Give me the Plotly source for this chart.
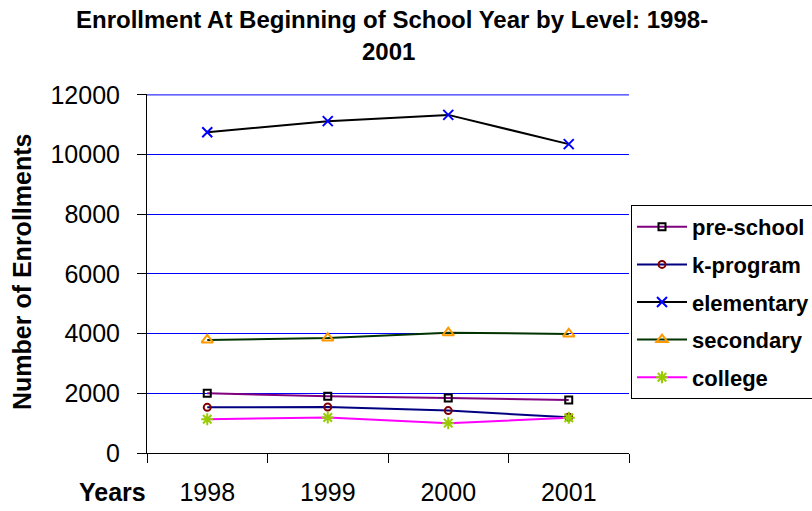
import plotly.graph_objects as go

years = ["1998", "1999", "2000", "2001"]
pre_school = [2000, 1900, 1840, 1780]
k_program = [1530, 1540, 1420, 1200]
elementary = [10750, 11120, 11330, 10350]
secondary = [3790, 3850, 4030, 3990]
college = [1130, 1190, 1000, 1180]
y_ticks = [0, 2000, 4000, 6000, 8000, 10000, 12000]
y_tick_labels = ["0", "2000", "4000", "6000", "8000", "10000", "12000"]

W, H = 812, 511
L, R, T, B = 147, 629, 94, 453
FONT = "Liberation Sans, Arial, sans-serif"
GRID = "#0000FF"


def px_x(x):
    return (x - L) / (R - L)


def px_y(y):
    return (B - y) / (B - T)


series = [
    ("pre-school", pre_school, "#800080", "square-open", "#000000", 7),
    ("k-program", k_program, "#000080", "circle-open", "#800000", 7),
    ("elementary", elementary, "#000000", "x-thin-open", "#0000FF", 10),
    ("secondary", secondary, "#003300", "triangle-up-open", "#FF9900", 10),
    ("college", college, "#FF00FF", "asterisk-open", "#99CC00", 10),
]

fig = go.Figure()
for name, vals, lc, sym, mc, ms in series:
    fig.add_trace(go.Scatter(
        x=years, y=vals, name=name, mode="lines+markers", legendgroup=name,
        line=dict(color=lc, width=2),
        marker=dict(symbol=sym, size=ms, color=mc, line=dict(color=mc, width=2)),
    ))

# top gridline (plotly omits the grid line at the range edge)
fig.add_shape(type="line", xref="paper", yref="y", x0=0, x1=1,
              y0=y_ticks[-1], y1=y_ticks[-1], layer="below",
              line=dict(color=GRID, width=1))

fig.update_layout(
    width=W, height=H,
    margin=dict(l=L, r=W - R, t=T, b=H - B, autoexpand=False),
    paper_bgcolor="white", plot_bgcolor="white",
    font=dict(family=FONT, color="black"),
    showlegend=True,
    legend=dict(
        x=px_x(631), y=px_y(205), xanchor="left", yanchor="top",
        bgcolor="white", bordercolor="black", borderwidth=1,
        font=dict(size=22, family=FONT, color="black", weight="bold"),
        traceorder="grouped", tracegroupgap=6, itemwidth=50,
    ),
    xaxis=dict(
        type="category", range=[-0.5, 3.5], tickson="boundaries",
        ticks="outside", ticklen=9, tickcolor="black", tickwidth=1,
        showline=True, linecolor="black", linewidth=1, showgrid=False,
        tickfont=dict(size=25, family=FONT), ticklabelstandoff=17,
    ),
    yaxis=dict(
        range=[0, 12030], tickvals=y_ticks, ticktext=y_tick_labels,
        ticks="outside", ticklen=9,
        tickcolor="black", showline=True, linecolor="black", linewidth=1,
        showgrid=True, gridcolor=GRID, gridwidth=1, zeroline=False,
        tickfont=dict(size=25, family=FONT), ticklabelstandoff=12,
    ),
    annotations=[
        dict(text="<b>Enrollment At Beginning of School Year by Level: 1998-</b>",
             xref="paper", yref="paper", x=px_x(392), y=px_y(19),
             xanchor="center", yanchor="middle", showarrow=False,
             font=dict(size=24, family=FONT)),
        dict(text="<b>2001</b>", xref="paper", yref="paper", x=px_x(388), y=px_y(51),
             xanchor="center", yanchor="middle", showarrow=False,
             font=dict(size=24, family=FONT)),
        dict(text="<b>Number of Enrollments</b>", xref="paper", yref="paper",
             x=px_x(22), y=px_y(272), textangle=-90, xanchor="center", yanchor="middle",
             showarrow=False, font=dict(size=25, family=FONT)),
        dict(text="<b>Years</b>", xref="paper", yref="paper", x=px_x(148), y=px_y(492),
             xanchor="right", yanchor="middle", showarrow=False,
             font=dict(size=25, family=FONT)),
    ],
)

fig.write_html("out.html", config={"displayModeBar": False},
               post_script="document.body.style.margin='0px';")
